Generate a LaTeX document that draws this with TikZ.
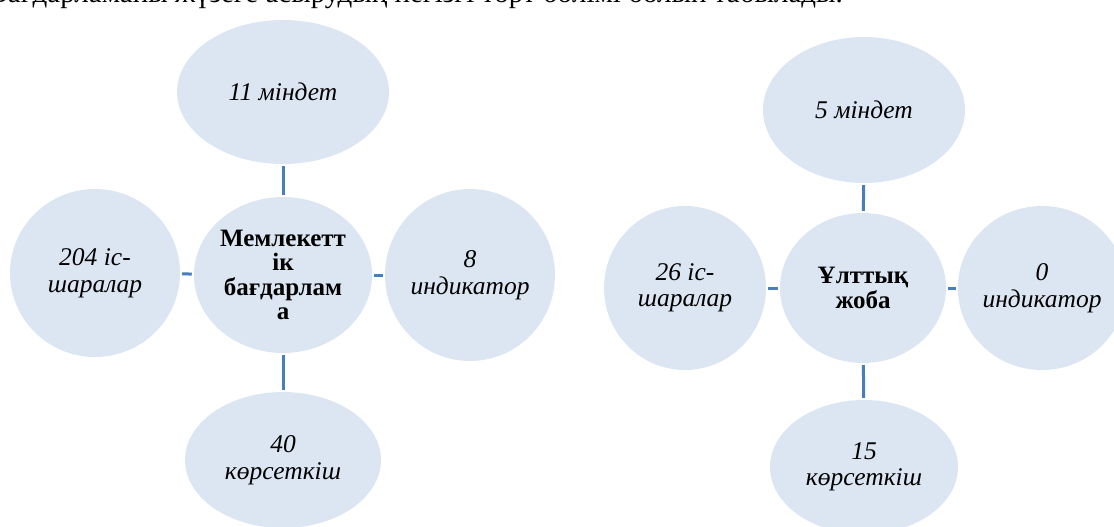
\documentclass[tikz,border=0pt]{standalone}
\usepackage{fontspec}
\setmainfont{Liberation Serif}
\usetikzlibrary{shapes.geometric}
\definecolor{bubble}{RGB}{220,230,242}
\definecolor{link}{RGB}{74,126,187}
\begin{document}
\begin{tikzpicture}[x=1pt,y=-1pt,
  bub/.style={ellipse, fill=bubble, inner sep=0pt, align=center,
    font=\fontsize{25.5}{26.5}\selectfont\itshape},
  hub/.style={bub, font=\fontsize{25}{24.5}\selectfont\bfseries},
  conn/.style={draw=link, line width=3pt, shorten <=2pt, shorten >=2pt}]
\useasboundingbox (0,0) rectangle (1114,527);
\clip (0,0) rectangle (1114,527);

% partially visible line of running text at the top edge
\node[anchor=base east, inner sep=0pt, font=\fontsize{29}{32}\selectfont] (caption) at (843,3)
  {Бағдарламаны жүзеге асырудың негізгі төрт бөлімі болып табылады.};

% left group
\node[bub, minimum width=212pt, minimum height=144pt] (lt) at (283,92) {11 міндет};
\node[hub, minimum width=178pt, minimum height=156pt] (lc) at (283,275) {Мемлекетт\\ік\\бағдарлам\\а};
\node[bub, minimum width=170pt, minimum height=168pt] (ll) at (95,273) {204 іс-\\шаралар};
\node[bub, minimum width=170pt, minimum height=172pt] (lr) at (470,275) {8\\индикатор};
\node[bub, minimum width=196pt, minimum height=136pt] (lb) at (283,460) {40\\көрсеткіш};

\draw[conn] (lt) -- (lc);
\draw[conn] (lc) -- (lb);
\draw[conn] (ll) -- (lc);
\draw[conn] (lc) -- (lr);

% right group
\node[bub, minimum width=202pt, minimum height=146pt] (rt) at (864,110) {5 міндет};
\node[hub, minimum width=166pt, minimum height=150pt] (rc) at (863,288) {Ұлттық\\жоба};
\node[bub, minimum width=162pt, minimum height=164pt] (rl) at (685,288) {26 іс-\\шаралар};
\node[bub, minimum width=160pt, minimum height=164pt] (rr) at (1042,288) {0\\индикатор};
\node[bub, minimum width=188pt, minimum height=134pt] (rb) at (864,467) {15\\көрсеткіш};

\draw[conn] (rt) -- (rc);
\draw[conn] (rc) -- (rb);
\draw[conn] (rl) -- (rc);
\draw[conn] (rc) -- (rr);
\end{tikzpicture}
\end{document}
